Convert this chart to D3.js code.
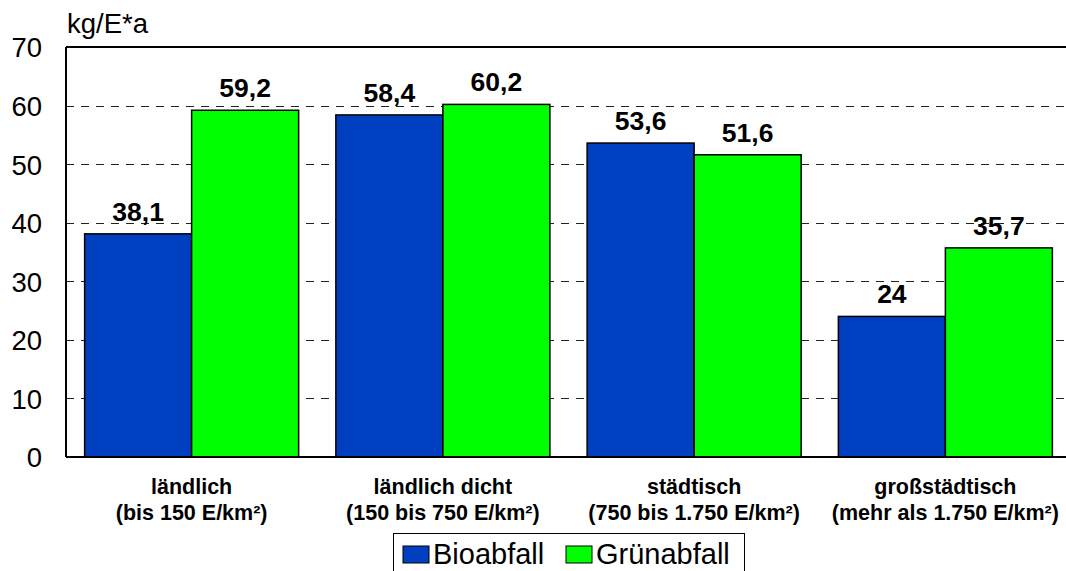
<!DOCTYPE html>
<html><head><meta charset="utf-8">
<script src="https://cdn.jsdelivr.net/npm/d3@7"></script>
<style>body{margin:0;background:#fff}svg{display:block}text{font-family:Arial,"Liberation Sans",sans-serif}</style>
</head><body>
<svg id="c" width="1066" height="571"></svg>
<script>
const categories = ["ländlich|(bis 150 E/km²)", "ländlich dicht|(150 bis 750 E/km²)", "städtisch|(750 bis 1.750 E/km²)", "großstädtisch|(mehr als 1.750 E/km²)"];
const seriesNames = ["Bioabfall", "Grünabfall"];
const bioabfall = [38.1, 58.4, 53.6, 24];
const gruenabfall = [59.2, 60.2, 51.6, 35.7];
const valueLabels = [["38,1","58,4","53,6","24"],["59,2","60,2","51,6","35,7"]];
const yTicks = [0,10,20,30,40,50,60,70];
const colors = ["#0040C0", "#00FF00"];
const yTitle = "kg/E*a";

const svg = d3.select("#c");
const L = 66, T = 47, R = 1071, B = 457;
const x0 = d3.scaleBand().domain(categories).range([L, R]).padding(0);
const x1 = d3.scaleBand().domain(seriesNames).range([0, x0.bandwidth()]).paddingInner(0).paddingOuter(0.174);
const y = d3.scaleLinear().domain([0, 70]).range([B, T]);
const values = [bioabfall, gruenabfall];

// gridlines
svg.append("g").selectAll("line").data(yTicks.filter(t => t > 0 && t < 70)).join("line")
  .attr("x1", L).attr("x2", R).attr("y1", d => Math.round(y(d)) + 0.5).attr("y2", d => Math.round(y(d)) + 0.5)
  .attr("stroke", "#222").attr("stroke-width", 1).attr("stroke-dasharray", "8,7");

// bars
const g = svg.append("g");
seriesNames.forEach((s, si) => {
  g.selectAll(".b" + si).data(categories).join("rect")
    .attr("x", c => x0(c) + x1(s))
    .attr("y", (c, i) => y(values[si][i]))
    .attr("width", x1.bandwidth())
    .attr("height", (c, i) => B - y(values[si][i]))
    .attr("fill", colors[si]).attr("stroke", "#000").attr("stroke-width", 1.5);
  g.selectAll(".l" + si).data(categories).join("text")
    .attr("x", c => x0(c) + x1(s) + x1.bandwidth() / 2)
    .attr("y", (c, i) => y(values[si][i]) - 13)
    .attr("text-anchor", "middle").attr("font-weight", "bold").attr("font-size", 26.5)
    .text((c, i) => valueLabels[si][i]);
});

// frame
svg.append("line").attr("x1", L).attr("x2", R).attr("y1", T).attr("y2", T).attr("stroke", "#000").attr("stroke-width", 2);
svg.append("line").attr("x1", L).attr("x2", R).attr("y1", B).attr("y2", B).attr("stroke", "#000").attr("stroke-width", 2);
svg.append("line").attr("x1", L).attr("x2", L).attr("y1", T).attr("y2", B).attr("stroke", "#000").attr("stroke-width", 2);

// y axis labels
const yAxis = d3.axisLeft(y).tickValues(yTicks).tickSize(0).tickPadding(24);
const ya = svg.append("g").attr("transform", `translate(${L},0)`).call(yAxis);
ya.select(".domain").remove();
ya.selectAll("text").attr("font-size", 27.5).attr("font-family", "Arial, 'Liberation Sans', sans-serif").attr("fill", "#000").attr("dy", "0.36em");

svg.append("text").attr("x", 67).attr("y", 33).attr("font-size", 27.5).text(yTitle);

// category labels
const xa = svg.append("g");
categories.forEach(c => {
  const parts = c.split("|");
  const cx = x0(c) + x0.bandwidth() / 2;
  const t = xa.append("text").attr("text-anchor", "middle").attr("font-weight", "bold").attr("font-size", 21.5).attr("x", cx);
  t.append("tspan").attr("x", cx).attr("y", 494).text(parts[0]);
  t.append("tspan").attr("x", cx).attr("y", 520).text(parts[1]);
});

// legend
const lg = svg.append("g");
lg.append("rect").attr("x", 393.5).attr("y", 533.5).attr("width", 351).attr("height", 50).attr("fill", "#fff").attr("stroke", "#000").attr("stroke-width", 1);
const legX = [403, 566];
seriesNames.forEach((s, i) => {
  lg.append("rect").attr("x", legX[i]).attr("y", 546).attr("width", 26).attr("height", 17).attr("fill", colors[i]).attr("stroke", "#000").attr("stroke-width", 1);
  lg.append("text").attr("x", legX[i] + 30).attr("y", 564).attr("font-size", 29).text(s);
});
</script>
</body></html>
